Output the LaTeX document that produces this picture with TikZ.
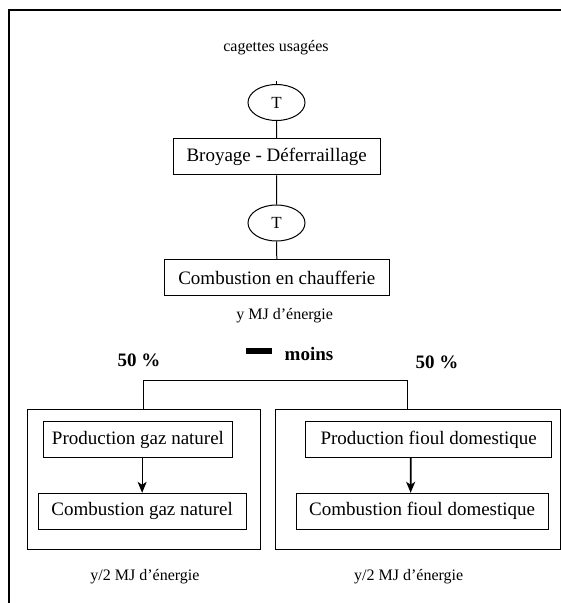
\documentclass[tikz,border=0pt]{standalone}
\usepackage{fontspec}
\setmainfont{Liberation Serif}
\usetikzlibrary{shapes.geometric,arrows.meta,calc}
\begin{document}
\begin{tikzpicture}[x=1pt,y=-1pt,
  line width=1pt,
  txt/.style={inner sep=0pt, font=\fontsize{16}{19}\selectfont},
  stepbox/.style={draw, rectangle, inner sep=0pt, minimum height=36pt,
                  font=\fontsize{19}{22}\selectfont},
  tnode/.style={draw, ellipse, inner sep=0pt, minimum width=57pt,
                minimum height=36pt, font=\fontsize{17}{20}\selectfont},
  pct/.style={inner sep=0pt, font=\fontsize{19}{22}\selectfont\bfseries},
  group/.style={draw, rectangle, inner sep=0pt, minimum height=140pt},
  arr/.style={-{Stealth[length=11pt,width=9pt,inset=3pt]}},
]
\useasboundingbox (0,0) rectangle (561,603);

% outer frame (top and left edges)
\draw[line width=2pt] (9,603) -- (9,9.5) -- (561,9.5);

% main chain
\node[txt] (cag) at (276,48) {cagettes usagées};
\coordinate (inlet) at (276.5,81);
\node[tnode] (t1) at (276.5,102.5) {T};
\node[stepbox, minimum width=207pt] (broy) at (276.7,156.8) {Broyage - Déferraillage};
\node[tnode] (t2) at (276.5,223) {T};
\node[stepbox, minimum width=225pt] (comb) at (276.8,277.5) {Combustion en chaufferie};
\node[txt] (ymj) at (284.7,316) {y MJ d’énergie};

\draw (inlet) -- (t1.north);
\draw (t1.south) -- (broy.north);
\draw (broy.south) -- (t2.north);
\draw (t2.south) -- (comb.north);

% "minus" label and shares
\node[fill=black, inner sep=0pt, minimum width=26.6pt, minimum height=6pt] (bar) at (259,351.3) {};
\node[pct, anchor=base] (moins) at (309,360.7) {moins};
\node[pct, anchor=base] (pl) at (139,366.5) {50 \%};
\node[pct, anchor=base] (pr) at (437,368.5) {50 \%};

% substitution groups
\node[group, minimum width=232.7pt] (gl) at (143.65,479.3) {};
\node[group, minimum width=284.8pt] (gr) at (418.1,479.3) {};

\node[stepbox, minimum width=189.4pt] (pgn) at (138,439.7) {Production gaz naturel};
\node[stepbox, minimum width=207.7pt] (cgn) at (142.15,511.3) {Combustion gaz naturel};
\node[stepbox, minimum width=246pt] (pfd) at (428.7,439.7) {Production fioul domestique};
\node[stepbox, minimum width=252.3pt] (cfd) at (422.15,511.3) {Combustion fioul domestique};

\draw[arr] (pgn.south -| cgn.north) -- (cgn.north);
\draw[arr, line width=1.8pt] ($(pfd.south)+(-18,0)$) -- ($(cfd.north)+(-11.5,0)$);

% split line between both groups
\coordinate (jr) at (407.5,409.3);
\draw (gl.north) -- ++(0,-28.3) -| (jr);

\node[txt] (yl) at (145,577) {y/2 MJ d’énergie};
\node[txt] (yr) at (408.7,577) {y/2 MJ d’énergie};
\end{tikzpicture}
\end{document}
